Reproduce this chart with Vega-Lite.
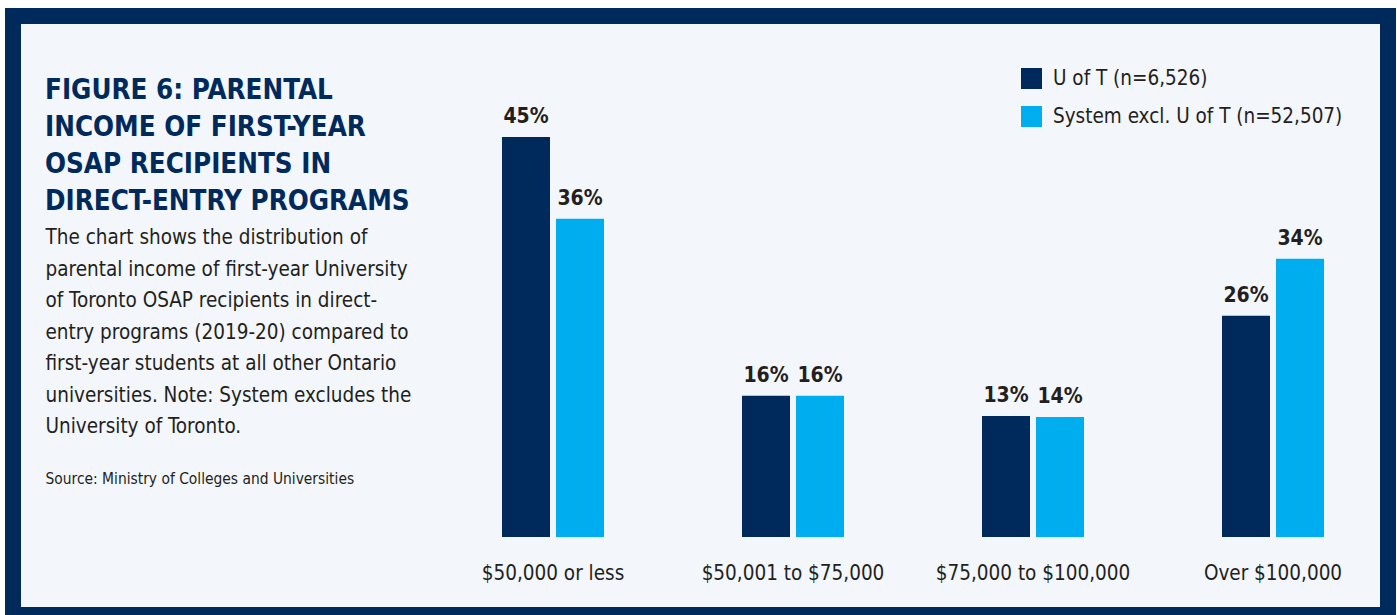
{
  "$schema": "https://vega.github.io/schema/vega-lite/v6.json",
  "width": 1375,
  "height": 599,
  "autosize": {"type": "none"},
  "padding": {"left": 13, "top": 16, "right": 9, "bottom": 0},
  "background": "#ffffff",
  "config": {
    "view": {"fill": "#f3f6fb", "stroke": "#002a5c", "strokeWidth": 16},
    "font": "Liberation Sans Narrow, DejaVu Sans Condensed, Liberation Sans"
  },
  "title": {
    "text": ["FIGURE 6: PARENTAL", "INCOME OF FIRST-YEAR", "OSAP RECIPIENTS IN", "DIRECT-ENTRY PROGRAMS"],
    "anchor": "start",
    "frame": "group",
    "orient": "top",
    "font": "Liberation Sans Narrow, DejaVu Sans Condensed, Liberation Sans",
    "fontSize": 27.5,
    "fontWeight": "bold",
    "color": "#002a5c",
    "lineHeight": 37,
    "limit": 0,
    "offset": 0,
    "dx": 32,
    "dy": 199
  },
  "data": {
    "values": [
      {"cat": "$50,000 or less", "series": "U of T (n=6,526)", "value": 45, "label": "45%"},
      {"cat": "$50,000 or less", "series": "System excl. U of T (n=52,507)", "value": 35.8, "label": "36%"},
      {"cat": "$50,001 to $75,000", "series": "U of T (n=6,526)", "value": 15.9, "label": "16%"},
      {"cat": "$50,001 to $75,000", "series": "System excl. U of T (n=52,507)", "value": 15.9, "label": "16%"},
      {"cat": "$75,000 to $100,000", "series": "U of T (n=6,526)", "value": 13.6, "label": "13%"},
      {"cat": "$75,000 to $100,000", "series": "System excl. U of T (n=52,507)", "value": 13.5, "label": "14%"},
      {"cat": "Over $100,000", "series": "U of T (n=6,526)", "value": 24.9, "label": "26%"},
      {"cat": "Over $100,000", "series": "System excl. U of T (n=52,507)", "value": 31.3, "label": "34%"}
    ]
  },
  "encoding": {
    "x": {
      "field": "cat",
      "type": "nominal",
      "sort": null,
      "scale": {"range": [489, 1311], "paddingInner": 0.575, "paddingOuter": 0},
      "axis": {
        "orient": "bottom",
        "offset": -78,
        "domain": false,
        "ticks": false,
        "tickSize": 0,
        "grid": false,
        "labelAngle": 0,
        "labelLimit": 0,
        "labelFont": "Liberation Sans Narrow, DejaVu Sans Condensed, Liberation Sans",
        "labelFontSize": 20.5,
        "labelColor": "#231f20",
        "labelBaseline": "alphabetic",
        "labelPadding": 42,
        "title": "Source: Ministry of Colleges and Universities",
        "titleX": 32,
        "titleY": -54,
        "titleAlign": "left",
        "titleAnchor": "start",
        "titleBaseline": "alphabetic",
        "titleLimit": 0,
        "titleFont": "Liberation Sans Narrow, DejaVu Sans Condensed, Liberation Sans",
        "titleFontSize": 15.4,
        "titleFontWeight": "normal",
        "titleColor": "#231f20"
      }
    },
    "xOffset": {
      "field": "series",
      "type": "nominal",
      "sort": ["U of T (n=6,526)", "System excl. U of T (n=52,507)"],
      "scale": {"paddingInner": 0.1111, "paddingOuter": 0}
    },
    "y": {
      "field": "value",
      "type": "quantitative",
      "scale": {"domain": [0, 45], "range": [521, 121], "zero": true, "nice": false},
      "axis": {
        "labels": false,
        "ticks": false,
        "domain": false,
        "grid": false,
        "title": [
          "The chart shows the distribution of",
          "parental income of first-year University",
          "of Toronto OSAP recipients in direct-",
          "entry programs (2019-20) compared to",
          "first-year students at all other Ontario",
          "universities. Note: System excludes the",
          "University of Toronto."
        ],
        "titleAngle": 0,
        "titleX": 32,
        "titleY": 211.8,
        "titleAlign": "left",
        "titleBaseline": "top",
        "titleLimit": 0,
        "titleFont": "Liberation Sans Narrow, DejaVu Sans Condensed, Liberation Sans",
        "titleFontSize": 20.5,
        "titleFontWeight": "normal",
        "titleLineHeight": 31.5,
        "titleColor": "#231f20"
      }
    }
  },
  "layer": [
    {
      "mark": {"type": "bar"},
      "encoding": {
        "color": {
          "field": "series",
          "type": "nominal",
          "scale": {
            "domain": ["U of T (n=6,526)", "System excl. U of T (n=52,507)"],
            "range": ["#002a5c", "#00aeef"]
          },
          "legend": {
            "orient": "none",
            "legendX": 1008,
            "legendY": 52,
            "title": null,
            "symbolType": "square",
            "symbolSize": 441,
            "symbolStrokeWidth": 0,
            "labelLimit": 0,
            "labelFont": "Liberation Sans Narrow, DejaVu Sans Condensed, Liberation Sans",
            "labelFontSize": 20.5,
            "labelColor": "#231f20",
            "labelOffset": 11,
            "rowPadding": 17,
            "padding": 0
          }
        }
      }
    },
    {
      "mark": {
        "type": "text",
        "baseline": "alphabetic",
        "dy": -14,
        "font": "Liberation Sans Narrow, DejaVu Sans Condensed, Liberation Sans",
        "fontSize": 21,
        "fontWeight": "bold",
        "color": "#231f20"
      },
      "encoding": {"text": {"field": "label"}}
    }
  ]
}
